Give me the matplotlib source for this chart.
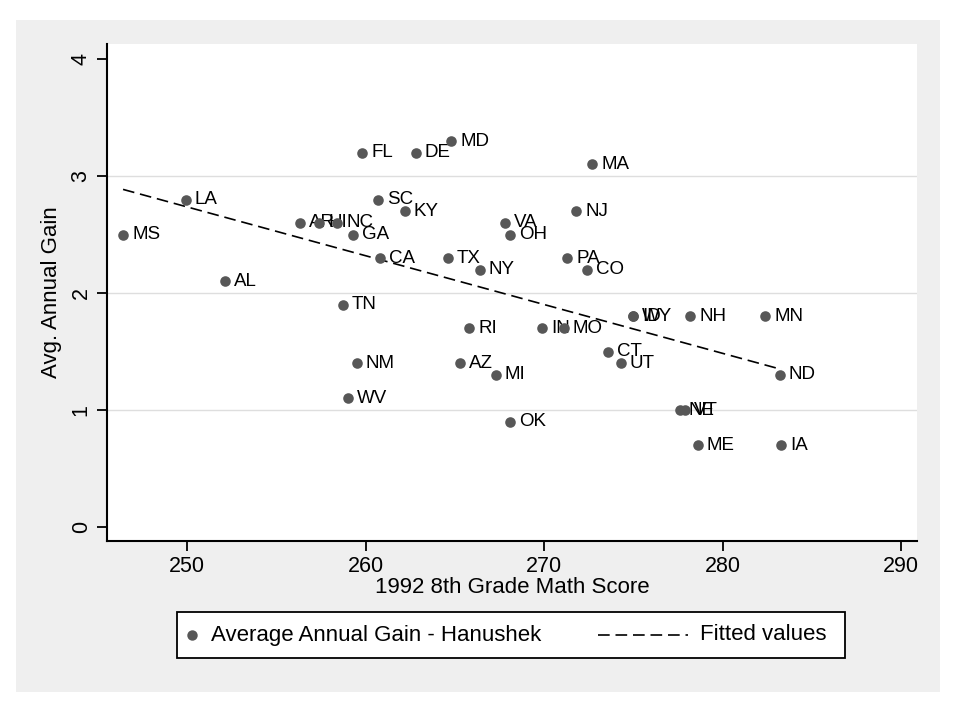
import numpy as np
import matplotlib
matplotlib.use("Agg")
import matplotlib.pyplot as plt
from matplotlib.patches import Rectangle
from matplotlib.lines import Line2D

plt.rcParams['font.family'] = ['Liberation Sans', 'DejaVu Sans']

states = ["MS", "LA", "AL", "AR", "HI", "NC", "GA", "CA", "SC", "KY",
          "FL", "DE", "MD", "TX", "NY", "TN", "NM", "WV", "RI", "AZ",
          "MI", "OK", "VA", "OH", "NJ", "PA", "CO", "MA", "IN", "MO",
          "ID", "WY", "NH", "CT", "UT", "MN", "ND", "NE", "VT", "ME", "IA"]
math_score = [246.4, 249.9, 252.1, 256.3, 257.4, 258.4, 259.3, 260.8, 260.7, 262.2,
              259.8, 262.8, 264.8, 264.6, 266.4, 258.7, 259.5, 259.0, 265.8, 265.3,
              267.3, 268.1, 267.8, 268.1, 271.8, 271.3, 272.4, 272.7, 269.9, 271.1,
              275.0, 275.0, 278.2, 273.6, 274.3, 282.4, 283.2, 277.6, 277.9, 278.6, 283.3]
annual_gain = [2.5, 2.8, 2.1, 2.6, 2.6, 2.6, 2.5, 2.3, 2.8, 2.7,
               3.2, 3.2, 3.3, 2.3, 2.2, 1.9, 1.4, 1.1, 1.7, 1.4,
               1.3, 0.9, 2.6, 2.5, 2.7, 2.3, 2.2, 3.1, 1.7, 1.7,
               1.8, 1.8, 1.8, 1.5, 1.4, 1.8, 1.3, 1.0, 1.0, 0.7, 0.7]

x_ticks = [250, 260, 270, 280, 290]
y_ticks = [0, 1, 2, 3, 4]

W, H = 960, 720
fig = plt.figure(figsize=(9.6, 7.2), dpi=100)
fig.patch.set_facecolor('white')

def fx(px):
    return px / W

def fy(py):
    return 1 - py / H

bg = Rectangle((fx(16), fy(692)), (940 - 16) / W, (692 - 20) / H,
               transform=fig.transFigure, facecolor='#efefef',
               edgecolor='none', zorder=-10)
fig.add_artist(bg)

ax = fig.add_axes([fx(107), fy(541), (917 - 107) / W, (541 - 44) / H])
ax.set_facecolor('white')

x = np.array(math_score)
y = np.array(annual_gain)

ax.scatter(x, y, s=58, color='#575757', zorder=3, linewidths=0)
for s, xi, yi in zip(states, x, y):
    ax.annotate(s, (xi, yi), xytext=(6.5, 0), textcoords='offset points',
                ha='left', va='center', fontsize=13.5, color='black', zorder=2)

coef = np.polyfit(x, y, 1)
xs = np.array([x.min(), x.max()])
ax.plot(xs, np.polyval(coef, xs), color='black', lw=1.2,
        linestyle=(0, (7, 3.5)), zorder=2.5)

ax.set_xlim(245.5, 290.9)
ax.set_ylim(-0.12, 4.13)
ax.set_xticks(x_ticks)
ax.set_yticks(y_ticks)
for g in [1, 2, 3]:
    ax.axhline(g, color='#dedede', lw=1.0, zorder=0)

for sp in ['top', 'right']:
    ax.spines[sp].set_visible(False)
for sp in ['left', 'bottom']:
    ax.spines[sp].set_linewidth(1.5)
    ax.spines[sp].set_color('black')

ax.tick_params(axis='both', length=7, width=1.3, labelsize=15.5, color='black')
ax.tick_params(axis='x', pad=4)
ax.tick_params(axis='y', pad=4)
for lbl in ax.get_yticklabels():
    lbl.set_rotation(90)
    lbl.set_va('center')

ax.set_xlabel('1992 8th Grade Math Score', fontsize=16, labelpad=0)
ax.set_ylabel('Avg. Annual Gain', fontsize=16, labelpad=6)

# legend box
leg_box = Rectangle((fx(177), fy(658)), (845 - 177) / W, (658 - 612) / H,
                    transform=fig.transFigure, facecolor='white',
                    edgecolor='black', lw=1.3, zorder=5)
fig.add_artist(leg_box)
fig.add_artist(Line2D([fx(192)], [fy(635)], transform=fig.transFigure,
                      marker='o', markersize=7.5, color='#575757',
                      markeredgewidth=0, linestyle='none', zorder=6))
fig.text(fx(211), fy(635), 'Average Annual Gain - Hanushek', fontsize=16,
         ha='left', va='center', zorder=6)
fig.add_artist(Line2D([fx(598), fx(688)], [fy(635), fy(635)],
                      transform=fig.transFigure, color='black', lw=1.2,
                      linestyle=(0, (7, 3.5)), zorder=6))
fig.text(fx(700), fy(635), 'Fitted values', fontsize=16,
         ha='left', va='center', zorder=6)

fig.savefig('out.png', dpi=100, facecolor='white')
